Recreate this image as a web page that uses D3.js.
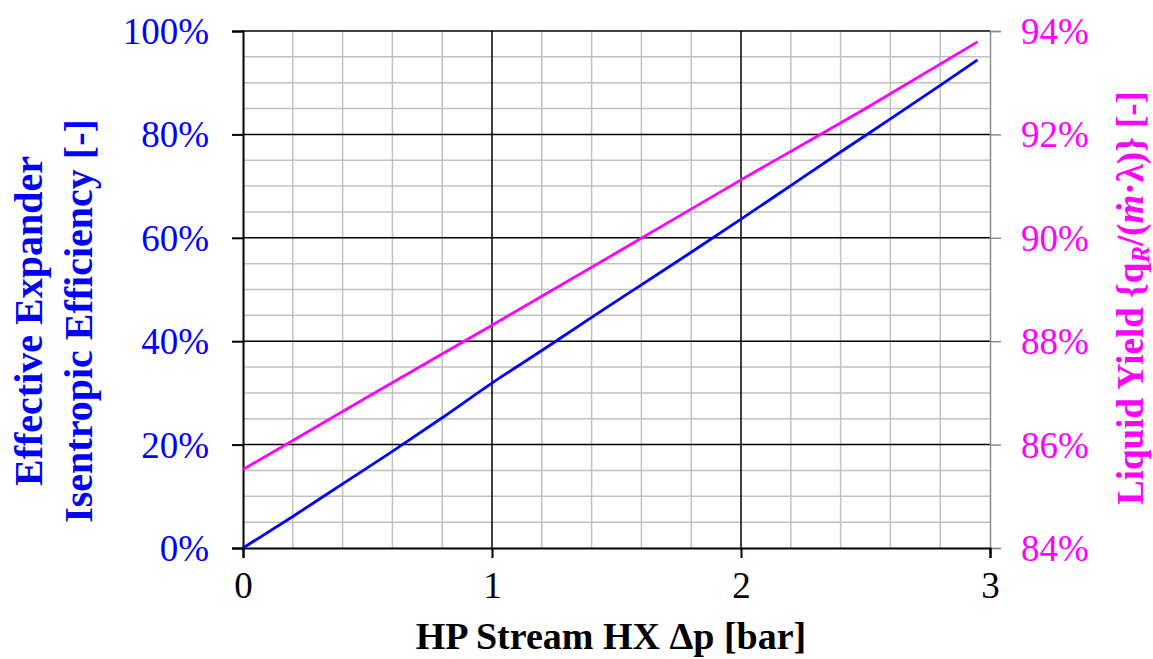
<!DOCTYPE html>
<html><head><meta charset="utf-8">
<script src="https://cdn.jsdelivr.net/npm/d3@7"></script>
<style>body{margin:0;background:#fff}svg{display:block}text{font-family:"Liberation Serif","Times New Roman",serif}</style>
</head><body>
<svg id="c" width="1153" height="659"></svg>
<script>
// Data
const effX = [0, 0.2, 0.4, 0.6, 0.8, 1.0, 1.2, 1.4, 1.6, 1.8, 2.0, 2.2, 2.4, 2.6, 2.8, 2.95];
const effY = [0, 6.1, 12.4, 18.7, 25.2, 31.9, 38.2, 44.6, 50.9, 57.2, 63.6, 70.1, 76.6, 83.0, 89.5, 94.4];
const yieldX = [0, 0.5, 1.0, 1.5, 2.0, 2.5, 2.95];
const yieldY = [85.52, 86.92, 88.31, 89.71, 91.12, 92.5, 93.79];
const xTicks = [0, 1, 2, 3];
const leftTicks = [0, 20, 40, 60, 80, 100];
const rightTicks = [84, 86, 88, 90, 92, 94];

const svg = d3.select("#c");
const L = 243, R = 990, T = 31, B = 548;
const x = d3.scaleLinear().domain([0, 3]).range([L, R]);
const yL = d3.scaleLinear().domain([0, 100]).range([B, T]);
const yR = d3.scaleLinear().domain([84, 94]).range([B, T]);

// minor grid
const minorX = d3.range(0, 3.001, 0.2).filter(v => Math.abs(v - Math.round(v)) > 1e-6);
const minorY = d3.range(0, 100.001, 5).filter(v => v % 20 !== 0);
svg.append("g").selectAll("line").data(minorX).join("line")
  .attr("x1", d => x(d)).attr("x2", d => x(d)).attr("y1", T).attr("y2", B)
  .attr("stroke", "#c0c0c0").attr("stroke-width", 1.5);
svg.append("g").selectAll("line").data(minorY).join("line")
  .attr("x1", L).attr("x2", R).attr("y1", d => yL(d)).attr("y2", d => yL(d))
  .attr("stroke", "#c0c0c0").attr("stroke-width", 1.5);
// major grid
svg.append("g").selectAll("line").data([1, 2]).join("line")
  .attr("x1", d => x(d)).attr("x2", d => x(d)).attr("y1", T).attr("y2", B)
  .attr("stroke", "#000").attr("stroke-width", 1.5);
svg.append("g").selectAll("line").data([20, 40, 60, 80, 100]).join("line")
  .attr("x1", L).attr("x2", R).attr("y1", d => yL(d)).attr("y2", d => yL(d))
  .attr("stroke", "#000").attr("stroke-width", 1.5);

// right axis (gray)
const gR = svg.append("g").attr("transform", `translate(${R},0)`)
  .call(d3.axisRight(yR).tickValues(rightTicks).tickSize(11).tickFormat(d => d + "%"));
gR.select(".domain").attr("stroke", "#8c8c8c").attr("stroke-width", 1.5);
gR.selectAll(".tick line").attr("stroke", "#8c8c8c").attr("stroke-width", 1.5);
gR.selectAll(".tick text").attr("x", 31).attr("dy", "0.34em")
  .attr("fill", "#ff00ff").style("font-size", "37px").style("font-family", "Liberation Serif");

// bottom axis
const gB = svg.append("g").attr("transform", `translate(0,${B})`)
  .call(d3.axisBottom(x).tickValues(xTicks).tickSize(10).tickFormat(d3.format("d")));
gB.select(".domain").attr("stroke", "#000").attr("stroke-width", 2);
gB.selectAll(".tick line").attr("stroke", "#000").attr("stroke-width", 2);
gB.selectAll(".tick text").attr("y", 24).attr("dy", "0.71em")
  .attr("fill", "#000").style("font-size", "37px").style("font-family", "Liberation Serif");

// left axis
const gL = svg.append("g").attr("transform", `translate(${L},0)`)
  .call(d3.axisLeft(yL).tickValues(leftTicks).tickSize(11).tickFormat(d => d + "%"));
gL.select(".domain").attr("stroke", "#000").attr("stroke-width", 2);
gL.selectAll(".tick line").attr("stroke", "#000").attr("stroke-width", 2);
gL.selectAll(".tick text").attr("x", -34).attr("dy", "0.34em")
  .attr("fill", "#0000ff").style("font-size", "37px").style("font-family", "Liberation Serif");

// lines
const effLine = d3.line().x((d, i) => x(effX[i])).y(d => yL(d)).curve(d3.curveMonotoneX);
svg.append("path").datum(effY).attr("d", effLine)
  .attr("fill", "none").attr("stroke", "#0000ff").attr("stroke-width", 2.8);
const yLine = d3.line().x((d, i) => x(yieldX[i])).y(d => yR(d)).curve(d3.curveMonotoneX);
svg.append("path").datum(yieldY).attr("d", yLine)
  .attr("fill", "none").attr("stroke", "#ff00ff").attr("stroke-width", 2.8);

// titles
svg.append("text").attr("x", 611).attr("y", 649).attr("text-anchor", "middle")
  .style("font-size", "38px").style("font-weight", "bold").attr("fill", "#000")
  .text("HP Stream HX Δp [bar]");

const lt = svg.append("text").attr("transform", "translate(0,321) rotate(-90)")
  .attr("text-anchor", "middle").style("font-size", "40px").style("font-weight", "bold").attr("fill", "#0000ff");
lt.append("tspan").attr("x", 0).attr("y", 42).text("Effective Expander");
lt.append("tspan").attr("x", 0).attr("y", 92).text("Isentropic Efficiency [-]");

const rt = svg.append("text").attr("transform", "translate(1143,298) rotate(-90)")
  .attr("text-anchor", "middle").style("font-size", "37px").style("font-weight", "bold").attr("fill", "#ff00ff");
rt.append("tspan").text("Liquid Yield {q");
rt.append("tspan").attr("baseline-shift", "-25%").style("font-size", "25px").style("font-style", "italic").text("R");
rt.append("tspan").text("/(");
rt.append("tspan").style("font-style", "italic").text("ṁ");
rt.append("tspan").text("·λ)} [-]");
</script>
</body></html>
